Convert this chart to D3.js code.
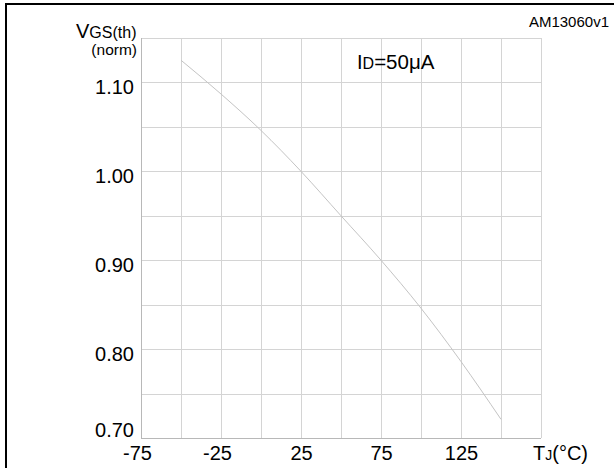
<!DOCTYPE html>
<html>
<head>
<meta charset="utf-8">
<script src="https://cdn.jsdelivr.net/npm/d3@7"></script>
<style>
  html, body { margin: 0; padding: 0; background: #fff; }
  svg { display: block; font-family: "Liberation Sans", Arial, Helvetica, sans-serif; }
</style>
</head>
<body>
<svg id="chart" width="614" height="468"></svg>
<script>
// Normalized gate threshold voltage vs junction temperature
const tempC = [-50, -25, 0, 25, 50, 75, 100, 125, 150];
const vgsNorm = [1.125, 1.087, 1.046, 1.000, 0.950, 0.900, 0.846, 0.786, 0.721];

const xGridTicks = [-75, -50, -25, 0, 25, 50, 75, 100, 125, 150, 175];
const yGridTicks = [0.70, 0.75, 0.80, 0.85, 0.90, 0.95, 1.00, 1.05, 1.10, 1.15];
const xLabelTicks = [-75, -25, 25, 75, 125];
const yLabelTicks = [0.70, 0.80, 0.90, 1.00, 1.10];

const svg = d3.select("#chart");
const plotLeft = 141, plotRight = 541, plotTop = 38, plotBottom = 438;

const x = d3.scaleLinear().domain([-75, 175]).range([plotLeft, plotRight]);
const y = d3.scaleLinear().domain([0.70, 1.15]).range([plotBottom, plotTop]);

// outer frame (only top and left edges fall inside the page)
svg.append("path")
  .attr("d", "M6,700V4H900")
  .attr("fill", "none")
  .attr("stroke", "#000")
  .attr("stroke-width", 2);

// grid lines
const grid = svg.append("g").attr("class", "grid");
grid.append("g")
  .attr("transform", `translate(0,${plotBottom})`)
  .call(d3.axisBottom(x).tickValues(xGridTicks).tickSize(-(plotBottom - plotTop)).tickFormat(""))
  .call(g => g.select(".domain").remove());
grid.append("g")
  .attr("transform", `translate(${plotLeft},0)`)
  .call(d3.axisLeft(y).tickValues(yGridTicks).tickSize(-(plotRight - plotLeft)).tickFormat(""))
  .call(g => g.select(".domain").remove());
grid.selectAll("line")
  .attr("stroke", "#d4d4d4")
  .attr("stroke-width", 1)
  .attr("shape-rendering", "crispEdges");

// left and bottom axis lines
svg.append("path")
  .attr("d", `M${plotLeft},${plotTop}V${plotBottom}H${plotRight}`)
  .attr("fill", "none")
  .attr("stroke", "#b8b8b8")
  .attr("stroke-width", 1)
  .attr("shape-rendering", "crispEdges");

// curve
const line = d3.line()
  .x((d, i) => x(tempC[i]))
  .y(d => y(d))
  .curve(d3.curveMonotoneX);
svg.append("path")
  .datum(vgsNorm)
  .attr("d", line)
  .attr("fill", "none")
  .attr("stroke", "#c4c4c4")
  .attr("stroke-width", 1);

// y tick labels
const yAxis = svg.append("g")
  .attr("transform", `translate(${plotLeft},0)`)
  .call(d3.axisLeft(y).tickValues(yLabelTicks).tickSize(0).tickPadding(7).tickFormat(d3.format(".2f")));
yAxis.select(".domain").remove();
yAxis.selectAll("text")
  .attr("font-size", 20)
  .attr("font-family", null)
  .attr("fill", "#000")
  .attr("dy", d => d === 0.70 ? "-0.08em" : "0.55em");

// x tick labels (plain hyphen for negatives)
const xAxis = svg.append("g")
  .attr("transform", `translate(0,${plotBottom})`)
  .call(d3.axisBottom(x).tickValues(xLabelTicks).tickSize(0).tickPadding(0).tickFormat(d => String(d)));
xAxis.select(".domain").remove();
xAxis.selectAll("text")
  .attr("font-size", 20)
  .attr("font-family", null)
  .attr("fill", "#000")
  .attr("y", 21.5)
  .attr("dy", 0)
  .attr("dx", d => d < 0 ? -4 : 0);

// axis titles
const yTitle = svg.append("text").attr("x", 76).attr("y", 38).attr("fill", "#000");
yTitle.append("tspan").attr("font-size", 20).text("V");
yTitle.append("tspan").attr("font-size", 16).text("GS(th)");
svg.append("text")
  .attr("x", 137).attr("y", 55)
  .attr("text-anchor", "end")
  .attr("font-size", 15.5)
  .attr("fill", "#000")
  .text("(norm)");

const xTitle = svg.append("text").attr("x", 533).attr("y", 459.5).attr("fill", "#000");
xTitle.append("tspan").attr("font-size", 20).text("T");
xTitle.append("tspan").attr("font-size", 14).text("J");
xTitle.append("tspan").attr("font-size", 20).text("(°C)");

// test condition
const cond = svg.append("text").attr("x", 357).attr("y", 69).attr("fill", "#000");
cond.append("tspan").attr("font-size", 20).text("I");
cond.append("tspan").attr("font-size", 16).text("D");
cond.append("tspan").attr("font-size", 20.5).text("=50μA");

// figure code
svg.append("text")
  .attr("x", 609).attr("y", 27)
  .attr("text-anchor", "end")
  .attr("font-size", 15)
  .attr("fill", "#000")
  .text("AM13060v1");
</script>
</body>
</html>
